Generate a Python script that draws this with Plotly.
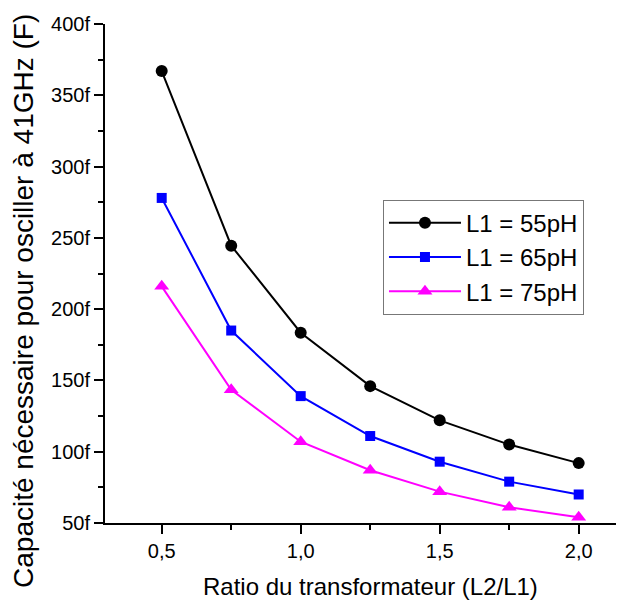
import plotly.graph_objects as go

ratio = [0.5, 0.75, 1.0, 1.25, 1.5, 1.75, 2.0]
c_55 = [367, 244.5, 183.5, 146, 122, 105, 92]
c_65 = [278, 185, 139, 111, 93, 79, 70]
c_75 = [216, 143.5, 107, 87, 72, 61, 54]

series = [
    ("L1 = 55pH", c_55, "#000000", "circle", 12),
    ("L1 = 65pH", c_65, "#0000ff", "square", 10),
    ("L1 = 75pH", c_75, "#ff00ff", "triangle-up", 13),
]

fig = go.Figure()
for name, vals, col, sym, sz in series:
    fig.add_trace(go.Scatter(
        x=ratio, y=vals, name=name, mode="lines+markers",
        line=dict(color=col, width=2),
        marker=dict(symbol=sym, size=sz, color=col),
    ))

font = "Liberation Sans, Arial, sans-serif"
fig.update_layout(
    width=616, height=595,
    margin=dict(l=97, r=0, t=16, b=80),
    plot_bgcolor="white", paper_bgcolor="white",
    separators=", ",
    font=dict(family=font, color="#000000", size=20),
    showlegend=True,
    legend=dict(
        x=0.5356, y=0.648, xanchor="left", yanchor="top",
        bordercolor="#777777", borderwidth=1,
        font=dict(size=24), bgcolor="white",
        tracegroupgap=0, itemwidth=72,
    ),
    xaxis=dict(
        range=[0.296, 2.163], tick0=0.5, dtick=0.5, tickformat=".1f",
        showgrid=False, zeroline=False,
        showline=True, linecolor="black", linewidth=2,
        ticks="outside", ticklen=9, tickwidth=2, tickcolor="black",
        minor=dict(dtick=0.25, tick0=0.5, ticks="outside", ticklen=5, tickwidth=2, tickcolor="black"),
        tickfont=dict(size=20),
    ),
    yaxis=dict(
        range=[50, 400], tick0=50, dtick=50, ticksuffix="f",
        showgrid=False, zeroline=False,
        showline=True, linecolor="black", linewidth=2,
        ticks="outside", ticklen=9, tickwidth=2, tickcolor="black",
        minor=dict(dtick=25, tick0=50, ticks="outside", ticklen=5, tickwidth=2, tickcolor="black"),
        tickfont=dict(size=20),
    ),
    annotations=[
        dict(text="Ratio du transformateur (L2/L1)", xref="paper", yref="paper",
             x=0.5125, y=-0.128, xanchor="center", yanchor="middle",
             showarrow=False, font=dict(size=24)),
        dict(text="Capacité nécessaire pour osciller à 41GHz (F)", xref="paper", yref="paper",
             x=-0.156, y=0.445, xanchor="center", yanchor="middle", textangle=-90,
             showarrow=False, font=dict(size=28)),
    ],
)

fig.write_html("out.html")
